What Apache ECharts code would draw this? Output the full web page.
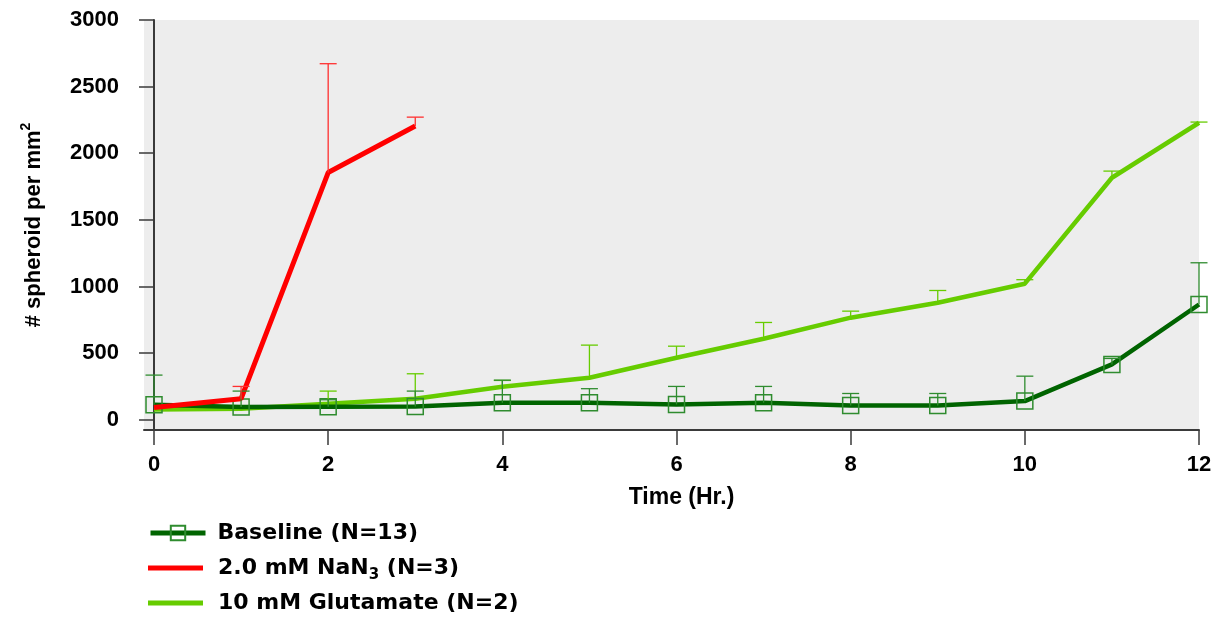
<!DOCTYPE html>
<html>
<head>
<meta charset="utf-8">
<script src="https://cdn.jsdelivr.net/npm/echarts@6/dist/echarts.min.js"></script>
<style>
html,body{margin:0;padding:0;background:#fff;}
#c{width:1221px;height:626px;}
</style>
</head>
<body>
<div id="c"></div>
<script>
// ---- data ----
const hours = [0, 1, 2, 3, 4, 5, 6, 7, 8, 9, 10, 11, 12];
const baseline = [113, 95, 98, 100, 128, 128, 115, 128, 107, 107, 140, 415, 865];
const baselineErrTop = [335, 215, 150, 215, 297, 233, 250, 250, 197, 197, 327, 460, 1178];
const nanHours = [0, 1, 2, 3];
const nan3 = [92, 158, 1855, 2204];
const nan3ErrTop = [null, 250, 2672, 2271];
const glutamate = [77, 83, 120, 158, 248, 315, 465, 608, 766, 878, 1021, 1816, 2229];
const glutamateErrTop = [null, null, 215, 345, 295, 560, 552, 730, 815, 970, 1051, 1866, 2234];
const xTicks = [0, 2, 4, 6, 8, 10, 12];
const yTicks = [0, 500, 1000, 1500, 2000, 2500, 3000];
const seriesNames = ['Baseline (N=13)', '2.0 mM NaN3 (N=3)', '10 mM Glutamate (N=2)'];

const C_BASE = '#006400', C_BASE_ERR = '#2f8c2f';
const C_NAN = '#ff0000', C_NAN_ERR = '#ff3030';
const C_GLU = '#66cc00', C_GLU_ERR = '#66cc00';

function pairs(xs, ys) { return xs.map((x, i) => [x, ys[i]]); }
function errData(xs, ys, tops) {
  const out = [];
  xs.forEach((x, i) => { if (tops[i] != null) out.push([x, ys[i], tops[i]]); });
  return out;
}
function errSeries(data, color, z) {
  return {
    type: 'custom', z: z, silent: true,
    renderItem: function (params, api) {
      const p0 = api.coord([api.value(0), api.value(1)]);
      const p1 = api.coord([api.value(0), api.value(2)]);
      const st = { stroke: color, lineWidth: 1.3 };
      return {
        type: 'group',
        children: [
          { type: 'line', shape: { x1: p0[0], y1: p0[1], x2: p1[0], y2: p1[1] }, style: st },
          { type: 'line', shape: { x1: p1[0] - 8.5, y1: p1[1], x2: p1[0] + 8.5, y2: p1[1] }, style: st }
        ]
      };
    },
    data: data
  };
}

const FONT = '"Liberation Sans", Arial, sans-serif';
const LFONT = '"DejaVu Sans", sans-serif';

function legendText(padLeft) {
  return {
    padding: [0, 0, 0, padLeft],
    rich: {
      a: { fontFamily: LFONT, fontWeight: 'bold', fontSize: 22, color: '#000', lineHeight: 30, verticalAlign: 'middle' },
      sub: { fontFamily: LFONT, fontWeight: 'bold', fontSize: 15, color: '#000', lineHeight: 14, verticalAlign: 'bottom' }
    }
  };
}
function legendFor(name, top, fmt, extra) {
  return Object.assign({
    data: [name], left: 148, top: top, padding: 0, orient: 'vertical',
    itemWidth: 55, itemHeight: 18, selectedMode: false,
    lineStyle: { width: 5 },
    formatter: fmt,
    textStyle: legendText(10)
  }, extra || {});
}

const chart = echarts.init(document.getElementById('c'));
chart.setOption({
  animation: false,
  backgroundColor: '#ffffff',
  grid: { left: 144, right: 22, top: 20, bottom: 196, show: true, backgroundColor: '#ededed', borderWidth: 0 },
  legend: [
    legendFor(seriesNames[0], 522, () => '{a|Baseline (N=13)}', { textStyle: legendText(7) }),
    legendFor(seriesNames[1], 557, () => '{a|2.0 mM NaN}{sub|3}{a| (N=3)}', { icon: 'rect', itemHeight: 5 }),
    legendFor(seriesNames[2], 592, () => '{a|10 mM Glutamate (N=2)}', { icon: 'rect', itemHeight: 5 })
  ],
  xAxis: {
    type: 'value', min: -0.115, max: 12,
    name: 'Time (Hr.)', nameLocation: 'middle', nameGap: 56,
    nameTextStyle: { fontFamily: FONT, fontWeight: 'bold', fontSize: 23, color: '#000', padding: [0, 0, 0, 20] },
    axisLine: { show: true, onZero: false, lineStyle: { color: '#3a3a3a', width: 2 } },
    axisTick: { show: true, customValues: xTicks, length: 15, lineStyle: { color: '#3a3a3a', width: 1.5 } },
    axisLabel: { customValues: xTicks, margin: 24, fontFamily: FONT, fontWeight: 'bold', fontSize: 22, color: '#000',
      formatter: (v) => String(v) },
    splitLine: { show: false }
  },
  yAxis: {
    type: 'value', min: -77, max: 3000,
    name: '{a|# spheroid per mm}{sup|2}', nameLocation: 'middle', nameGap: 95,
    nameTextStyle: {
      rich: {
        a: { fontFamily: FONT, fontWeight: 'bold', fontSize: 22, color: '#000', lineHeight: 30, verticalAlign: 'middle' },
        sup: { fontFamily: FONT, fontWeight: 'bold', fontSize: 14, color: '#000', lineHeight: 14, verticalAlign: 'top' }
      }
    },
    axisLine: { show: true, lineStyle: { color: '#3a3a3a', width: 2 } },
    axisTick: { show: true, customValues: yTicks, length: 15, lineStyle: { color: '#3a3a3a', width: 1.5 } },
    axisLabel: { customValues: yTicks, margin: 25, fontFamily: FONT, fontWeight: 'bold', fontSize: 22, color: '#000',
      formatter: (v) => String(v) },
    splitLine: { show: false }
  },
  series: [
    {
      name: seriesNames[2], type: 'line', data: pairs(hours, glutamate), symbol: 'none', z: 2,
      lineStyle: { color: C_GLU, width: 4.5 }, itemStyle: { color: C_GLU }
    },
    {
      name: seriesNames[0], type: 'line', data: pairs(hours, baseline), z: 3,
      symbol: 'rect', symbolSize: 16, showAllSymbol: true,
      lineStyle: { color: C_BASE, width: 4.5 },
      itemStyle: { color: 'rgba(0,0,0,0)', borderColor: C_BASE_ERR, borderWidth: 1.5 }
    },
    {
      name: seriesNames[1], type: 'line', data: pairs(nanHours, nan3), symbol: 'none', z: 4,
      lineStyle: { color: C_NAN, width: 5 }, itemStyle: { color: C_NAN }
    },
    errSeries(errData(hours, glutamate, glutamateErrTop), C_GLU_ERR, 5),
    errSeries(errData(hours, baseline, baselineErrTop), C_BASE_ERR, 5),
    errSeries(errData(nanHours, nan3, nan3ErrTop), C_NAN_ERR, 5)
  ]
});
</script>
</body>
</html>
